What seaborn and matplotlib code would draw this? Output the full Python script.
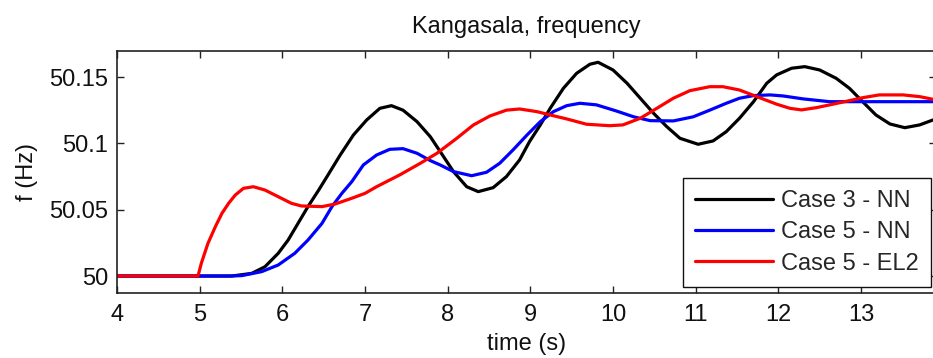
import matplotlib
matplotlib.use("Agg")
import matplotlib.pyplot as plt
import seaborn as sns
import pandas as pd

# ---- data ----
t_case3_nn = [4.0, 5.39, 5.63, 5.79, 5.95, 6.07, 6.19, 6.31, 6.44, 6.54, 6.70, 6.86,
              7.02, 7.18, 7.32, 7.46, 7.63, 7.79, 7.95, 8.07, 8.23, 8.37, 8.55, 8.71,
              8.87, 8.99, 9.12, 9.24, 9.40, 9.56, 9.72, 9.82, 10.00, 10.17, 10.33,
              10.49, 10.65, 10.81, 11.03, 11.21, 11.37, 11.53, 11.70, 11.86, 11.98,
              12.16, 12.32, 12.50, 12.70, 12.86, 13.02, 13.18, 13.35, 13.53, 13.71,
              13.87]
f_case3_nn = [50.0, 50.0, 50.002, 50.007, 50.0171, 50.0271, 50.0397, 50.0523, 50.0648,
              50.0749, 50.0912, 50.1063, 50.1176, 50.1264, 50.1284, 50.125, 50.1163,
              50.105, 50.090, 50.0787, 50.0673, 50.0636, 50.0666, 50.0749, 50.0875,
              50.1013, 50.1138, 50.1264, 50.1415, 50.1528, 50.1596, 50.1611, 50.1553,
              50.1453, 50.134, 50.1227, 50.1126, 50.1038, 50.0993, 50.1018, 50.1088,
              50.1189, 50.1314, 50.1453, 50.1516, 50.1566, 50.1578, 50.1553, 50.149,
              50.1415, 50.1314, 50.1214, 50.1146, 50.1118, 50.1139, 50.1176]

t_case5_nn = [4.0, 5.35, 5.51, 5.75, 5.95, 6.15, 6.31, 6.48, 6.60, 6.72, 6.84, 6.98,
              7.14, 7.30, 7.46, 7.63, 7.79, 7.91, 8.07, 8.29, 8.47, 8.63, 8.79, 8.96,
              9.12, 9.28, 9.44, 9.60, 9.80, 10.04, 10.25, 10.45, 10.73, 10.97, 11.17,
              11.37, 11.53, 11.70, 11.90, 12.06, 12.30, 12.62, 13.02, 13.87]
f_case5_nn = [50.0, 50.0, 50.0003, 50.0033, 50.0083, 50.0171, 50.0271, 50.0397,
              50.0523, 50.0623, 50.0711, 50.0837, 50.0912, 50.0955, 50.096, 50.0925,
              50.087, 50.0837, 50.0787, 50.0756, 50.0782, 50.085, 50.095, 50.1063,
              50.1163, 50.1239, 50.1284, 50.1302, 50.129, 50.1244, 50.120, 50.1171,
              50.1169, 50.120, 50.125, 50.1302, 50.134, 50.136, 50.1365, 50.1357,
              50.1335, 50.1314, 50.1314, 50.1314]

t_case5_el2 = [4.0, 4.98, 5.02, 5.10, 5.19, 5.27, 5.35, 5.43, 5.53, 5.65, 5.79, 5.95,
               6.11, 6.23, 6.48, 6.64, 6.84, 7.00, 7.14, 7.42, 7.67, 7.87, 8.11, 8.31,
               8.51, 8.71, 8.87, 9.08, 9.24, 9.44, 9.68, 9.96, 10.12, 10.33, 10.53,
               10.73, 10.93, 11.17, 11.33, 11.53, 11.74, 11.98, 12.14, 12.28, 12.46,
               12.66, 12.86, 13.02, 13.22, 13.51, 13.71, 13.87]
f_case5_el2 = [50.0, 50.0, 50.0096, 50.0246, 50.0372, 50.0473, 50.0548, 50.061,
               50.0661, 50.0673, 50.0648, 50.0598, 50.0548, 50.0528, 50.0523, 50.0543,
               50.0586, 50.0623, 50.0673, 50.0762, 50.085, 50.0925, 50.1038, 50.1138,
               50.1206, 50.125, 50.1259, 50.1239, 50.1214, 50.1184, 50.1144, 50.1133,
               50.1139, 50.1189, 50.1264, 50.134, 50.1397, 50.1427, 50.1427, 50.1402,
               50.1352, 50.1295, 50.1264, 50.1252, 50.1269, 50.1295, 50.1322, 50.1344,
               50.1365, 50.1365, 50.1352, 50.1332]

labels = ["Case 3 - NN", "Case 5 - NN", "Case 5 - EL2"]
colors = ["#000000", "#0000FF", "#FF0000"]
x_ticks = [4, 5, 6, 7, 8, 9, 10, 11, 12, 13]
y_ticks = [50.0, 50.05, 50.1, 50.15]
y_tick_labels = ["50", "50.05", "50.1", "50.15"]

df = pd.concat([
    pd.DataFrame({"t": t_case3_nn, "f": f_case3_nn, "case": labels[0]}),
    pd.DataFrame({"t": t_case5_nn, "f": f_case5_nn, "case": labels[1]}),
    pd.DataFrame({"t": t_case5_el2, "f": f_case5_el2, "case": labels[2]}),
], ignore_index=True)

sns.set_style("ticks")
plt.rcParams["font.family"] = ["Liberation Sans", "DejaVu Sans"]

W, H = 933, 358
fig = plt.figure(figsize=(W / 100, H / 100), dpi=100)
ax_l, ax_r, ax_t, ax_b = 117, 936, 51, 293
ax = fig.add_axes([ax_l / W, 1 - ax_b / H, (ax_r - ax_l) / W, (ax_b - ax_t) / H])

sns.lineplot(data=df, x="t", y="f", hue="case", hue_order=labels,
             palette=dict(zip(labels, colors)), estimator=None, sort=False,
             linewidth=2.3, ax=ax)

x_per_px = 9.0 / (861 - 117)
ax.set_xlim(4, 4 + (ax_r - ax_l) * x_per_px)
ax.set_ylim(49.9872, 50.1696)
ax.set_xticks(x_ticks)
ax.set_xticklabels([str(v) for v in x_ticks])
ax.set_yticks(y_ticks)
ax.set_yticklabels(y_tick_labels)

for s in ax.spines.values():
    s.set_visible(True)
    s.set_linewidth(1.2)
    s.set_color("#222222")
ax.tick_params(direction="in", length=5, width=1.0, color="#222222",
               top=True, right=True, labelsize=17, pad=6.5, colors="#222222")
ax.tick_params(axis="x", pad=8)
for lab in ax.get_xticklabels() + ax.get_yticklabels():
    lab.set_color("#111111")

ax.set_title("Kangasala, frequency", fontsize=17, pad=13, color="#111111")
ax.set_xlabel("time (s)", fontsize=17, labelpad=5, color="#111111")
ax.set_ylabel("f (Hz)", fontsize=17, labelpad=8, color="#111111")

handles, _ = ax.get_legend_handles_labels()
leg = ax.legend(handles[:3], labels, loc="upper left",
                bbox_to_anchor=((683 - ax_l) / (ax_r - ax_l), (ax_b - 178) / (ax_b - ax_t)),
                fontsize=17, frameon=True, fancybox=False, framealpha=1,
                edgecolor="#111111", borderaxespad=0, handlelength=3.3,
                handletextpad=0.35, labelspacing=0.4, borderpad=0.5)
leg.get_frame().set_linewidth(1.0)
for lh in leg.get_lines():
    lh.set_linewidth(2.3)

fig.savefig("out.png", dpi=100)
